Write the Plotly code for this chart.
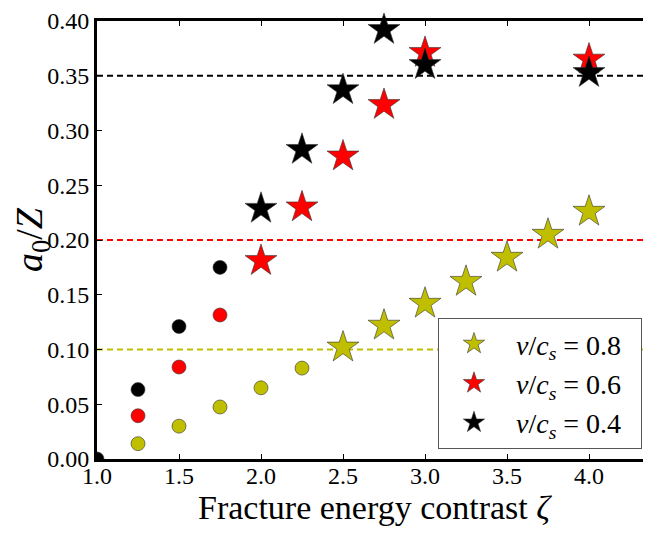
import plotly.graph_objects as go

# Data
yel_circ_x = [1.25, 1.5, 1.75, 2.0, 2.25]
yel_circ_y = [0.014, 0.030, 0.0475, 0.065, 0.083]
yel_star_x = [2.5, 2.75, 3.0, 3.25, 3.5, 3.75, 4.0]
yel_star_y = [0.102, 0.122, 0.142, 0.162, 0.184, 0.205, 0.226]

red_circ_x = [1.25, 1.5, 1.75]
red_circ_y = [0.0395, 0.084, 0.1315]
red_star_x = [2.0, 2.25, 2.5, 2.75, 3.0, 4.0]
red_star_y = [0.181, 0.230, 0.2765, 0.3235, 0.371, 0.365]

blk_circ_x = [1.0, 1.25, 1.5, 1.75]
blk_circ_y = [0.0, 0.0634, 0.121, 0.175]
blk_star_x = [2.0, 2.25, 2.5, 2.75, 3.0, 4.0]
blk_star_y = [0.2287, 0.2825, 0.337, 0.392, 0.360, 0.3527]

thresholds = [0.10, 0.20, 0.35]
labels = ["&nbsp;<i>v</i>/<i>c<sub>s</sub></i> = 0.8&nbsp;&nbsp;",
          "&nbsp;<i>v</i>/<i>c<sub>s</sub></i> = 0.6&nbsp;&nbsp;",
          "&nbsp;<i>v</i>/<i>c<sub>s</sub></i> = 0.4&nbsp;&nbsp;"]
colors = ["#bfbf00", "#ff0000", "#000000"]
x_ticks = [1.0, 1.5, 2.0, 2.5, 3.0, 3.5, 4.0]
x_ticktext = ["1.0", "1.5", "2.0", "2.5", "3.0", "3.5", "4.0"]
y_ticks = [0, 0.05, 0.1, 0.15, 0.2, 0.25, 0.3, 0.35, 0.4]
y_ticktext = ["0.00", "0.05", "0.10", "0.15", "0.20", "0.25", "0.30", "0.35", "0.40"]

FONT = "Liberation Serif, Times New Roman, serif"
fig = go.Figure()

groups = [
    (yel_circ_x, yel_circ_y, yel_star_x, yel_star_y),
    (red_circ_x, red_circ_y, red_star_x, red_star_y),
    (blk_circ_x, blk_circ_y, blk_star_x, blk_star_y),
]
for i, (cx, cy, sx, sy) in enumerate(groups):
    fig.add_trace(go.Scatter(
        x=cx, y=cy, mode="markers", showlegend=False, cliponaxis=True,
        marker=dict(symbol="circle", size=14, color=colors[i],
                    line=dict(color="#333333", width=0.6))))
    fig.add_trace(go.Scatter(
        x=sx, y=sy, mode="markers", name=labels[i], cliponaxis=False,
        marker=dict(symbol="star", size=24, color=colors[i],
                    line=dict(color="#333333", width=0.6))))

for t, c in zip(thresholds, colors):
    fig.add_shape(type="line", xref="paper", x0=0, x1=1, yref="y", y0=t, y1=t,
                  line=dict(color=c, width=2, dash="6px,4px"), layer="below")

fig.update_layout(
    width=643, height=519,
    margin=dict(l=89, r=0, t=8, b=68),
    plot_bgcolor="white", paper_bgcolor="white",
    font=dict(family=FONT, size=24, color="black"),
    legend=dict(x=0.6155, y=0.322, xanchor="left", yanchor="top",
                bgcolor="white", bordercolor="#555555", borderwidth=1,
                font=dict(size=28, family=FONT), traceorder="normal",
                itemsizing="trace", itemwidth=60),
)
fig.update_xaxes(range=[1.0, 4.378], tickvals=x_ticks, ticktext=x_ticktext,
                 tickfont=dict(family=FONT, size=24), ticklabelstandoff=-7,
                 showgrid=False, zeroline=False, showline=True, linecolor="black",
                 linewidth=3, mirror="ticks", ticks="inside", ticklen=5,
                 tickcolor="black",
                 title=dict(text="Fracture energy contrast <i>ζ</i>",
                            font=dict(size=34, family=FONT), standoff=0))
fig.update_yaxes(range=[0.0, 0.40], tickvals=y_ticks, ticktext=y_ticktext,
                 tickfont=dict(family=FONT, size=24), ticklabeloverflow="allow",
                 showgrid=False, zeroline=False, showline=True, linecolor="black",
                 linewidth=3, ticks="inside", ticklen=5, tickcolor="black",
                 title=dict(text="<i>a</i><sub>0</sub>/<i>Z</i>",
                            font=dict(size=38, family=FONT), standoff=4))

fig.write_html("out.html")
